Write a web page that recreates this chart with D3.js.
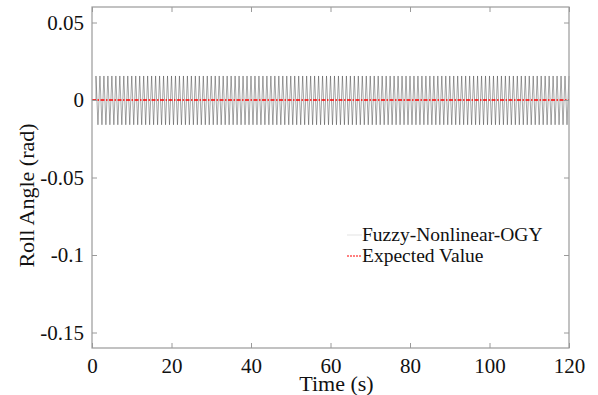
<!DOCTYPE html>
<html>
<head>
<meta charset="utf-8">
<script src="https://cdn.jsdelivr.net/npm/d3@7"></script>
<style>
  body { margin: 0; background: #fff; }
</style>
</head>
<body>
<svg id="chart" width="598" height="395"></svg>
<script>
// tick labels
const xTicks = [0, 20, 40, 60, 80, 100, 120];
const yTicks = [0.05, 0, -0.05, -0.1, -0.15];
const xDomain = [0, 120];
const yDomain = [-0.16, 0.06];

// roll angle oscillation, peaks read every half second from t = 1 s
const rollStart = 1;
const rollStep = 0.5;
const rollPeaks = [
  0.0155, -0.016, 0.0155, -0.016, 0.0155, -0.016, 0.0155, -0.016, 0.0155, -0.016,
  0.0155, -0.016, 0.0155, -0.016, 0.0155, -0.016, 0.0155, -0.016, 0.0155, -0.016,
  0.0155, -0.016, 0.0155, -0.016, 0.0155, -0.016, 0.0155, -0.016, 0.0155, -0.016,
  0.0155, -0.016, 0.0155, -0.016, 0.0155, -0.016, 0.0155, -0.016, 0.0155, -0.016,
  0.0155, -0.016, 0.0155, -0.016, 0.0155, -0.016, 0.0155, -0.016, 0.0155, -0.016,
  0.0155, -0.016, 0.0155, -0.016, 0.0155, -0.016, 0.0155, -0.016, 0.0155, -0.016,
  0.0155, -0.016, 0.0155, -0.016, 0.0155, -0.016, 0.0155, -0.016, 0.0155, -0.016,
  0.0155, -0.016, 0.0155, -0.016, 0.0155, -0.016, 0.0155, -0.016, 0.0155, -0.016,
  0.0155, -0.016, 0.0155, -0.016, 0.0155, -0.016, 0.0155, -0.016, 0.0155, -0.016,
  0.0155, -0.016, 0.0155, -0.016, 0.0155, -0.016, 0.0155, -0.016, 0.0155, -0.016,
  0.0155, -0.016, 0.0155, -0.016, 0.0155, -0.016, 0.0155, -0.016, 0.0155, -0.016,
  0.0155, -0.016, 0.0155, -0.016, 0.0155, -0.016, 0.0155, -0.016, 0.0155, -0.016,
  0.0155, -0.016, 0.0155, -0.016, 0.0155, -0.016, 0.0155, -0.016, 0.0155, -0.016,
  0.0155, -0.016, 0.0155, -0.016, 0.0155, -0.016, 0.0155, -0.016, 0.0155, -0.016,
  0.0155, -0.016, 0.0155, -0.016, 0.0155, -0.016, 0.0155, -0.016, 0.0155, -0.016,
  0.0155, -0.016, 0.0155, -0.016, 0.0155, -0.016, 0.0155, -0.016, 0.0155, -0.016,
  0.0155, -0.016, 0.0155, -0.016, 0.0155, -0.016, 0.0155, -0.016, 0.0155, -0.016,
  0.0155, -0.016, 0.0155, -0.016, 0.0155, -0.016, 0.0155, -0.016, 0.0155, -0.016,
  0.0155, -0.016, 0.0155, -0.016, 0.0155, -0.016, 0.0155, -0.016, 0.0155, -0.016,
  0.0155, -0.016, 0.0155, -0.016, 0.0155, -0.016, 0.0155, -0.016, 0.0155, -0.016,
  0.0155, -0.016, 0.0155, -0.016, 0.0155, -0.016, 0.0155, -0.016, 0.0155, -0.016,
  0.0155, -0.016, 0.0155, -0.016, 0.0155, -0.016, 0.0155, -0.016, 0.0155, -0.016,
  0.0155, -0.016, 0.0155, -0.016, 0.0155, -0.016, 0.0155, -0.016, 0.0155, -0.016,
  0.0155, -0.016, 0.0155, -0.016, 0.0155, -0.016, 0.0155, -0.016, 0.0155
];
const expectedTime = [0, 120];
const expectedValue = [0, 0];

const seriesNames = ['Fuzzy-Nonlinear-OGY', 'Expected Value'];

const serif = 'Liberation Serif';
const margin = { top: 7, right: 29, bottom: 47, left: 92 };
const svg = d3.select('#chart').attr('font-family', serif);
const width = +svg.attr('width') - margin.left - margin.right;
const height = +svg.attr('height') - margin.top - margin.bottom;

const x = d3.scaleLinear().domain(xDomain).range([0, width]);
const y = d3.scaleLinear().domain(yDomain).range([height, 0]);

const g = svg.append('g').attr('transform', `translate(${margin.left},${margin.top})`);
const axisColor = '#9a9a9a';
const tickLen = 5;

// series
const rollData = [{ t: 0, v: 0 }, { t: rollStart, v: 0 }]
  .concat(rollPeaks.map((v, i) => ({ t: rollStart + i * rollStep, v: v })));

g.append('path')
  .datum(rollData)
  .attr('fill', 'none')
  .attr('stroke', '#222')
  .attr('stroke-width', 0.4)
  .attr('d', d3.line().x(d => x(d.t)).y(d => y(d.v)));

g.append('path')
  .datum(expectedTime.map((t, i) => ({ t: t, v: expectedValue[i] })))
  .attr('fill', 'none')
  .attr('stroke', '#ff0000')
  .attr('stroke-width', 1.5)
  .attr('stroke-dasharray', '4,1.5,1.5,1.5')
  .attr('d', d3.line().x(d => x(d.t)).y(d => y(d.v)));

// axes (box with inward ticks)
const styleAxis = sel => {
  sel.attr('font-family', serif).attr('font-size', 21);
  sel.select('.domain').remove();
  sel.selectAll('.tick line').attr('stroke', axisColor);
  sel.selectAll('.tick text')
    .attr('font-family', serif)
    .attr('font-size', 21)
    .attr('fill', '#111');
};

g.append('g')
  .attr('transform', `translate(0,${height})`)
  .call(d3.axisBottom(x).tickValues(xTicks).tickSizeInner(-tickLen).tickSizeOuter(0).tickPadding(10))
  .call(styleAxis);

g.append('g')
  .call(d3.axisTop(x).tickValues(xTicks).tickSizeInner(-tickLen).tickSizeOuter(0).tickFormat(''))
  .call(styleAxis);

g.append('g')
  .call(d3.axisLeft(y).tickValues(yTicks).tickSizeInner(-tickLen).tickSizeOuter(0).tickPadding(8)
    .tickFormat(d => d === 0 ? '0' : String(d)))
  .call(styleAxis);

g.append('g')
  .attr('transform', `translate(${width},0)`)
  .call(d3.axisRight(y).tickValues(yTicks).tickSizeInner(-tickLen).tickSizeOuter(0).tickFormat(''))
  .call(styleAxis);

g.append('rect')
  .attr('width', width)
  .attr('height', height)
  .attr('fill', 'none')
  .attr('stroke', axisColor)
  .attr('stroke-width', 1.2);

// axis labels
svg.append('text')
  .attr('x', margin.left + width / 2 + 6)
  .attr('y', 391)
  .attr('text-anchor', 'middle')
  .attr('font-size', 22)
  .attr('fill', '#111')
  .text('Time (s)');

svg.append('text')
  .attr('transform', `translate(34,${margin.top + height / 2 + 18}) rotate(-90)`)
  .attr('text-anchor', 'middle')
  .attr('font-size', 22)
  .attr('fill', '#111')
  .text('Roll Angle (rad)');

// legend
const legend = svg.append('g').attr('transform', 'translate(347,235)');
const legendStyles = [
  { stroke: '#d0d0d0', width: 0.6, dash: null },
  { stroke: '#ff0000', width: 1.2, dash: '2,1' }
];
seriesNames.forEach((name, i) => {
  const row = legend.append('g').attr('transform', `translate(0,${i * 21})`);
  row.append('line')
    .attr('x1', 0).attr('x2', 15).attr('y1', 0).attr('y2', 0)
    .attr('stroke', legendStyles[i].stroke)
    .attr('stroke-width', legendStyles[i].width)
    .attr('stroke-dasharray', legendStyles[i].dash);
  row.append('text')
    .attr('x', 15)
    .attr('y', 6)
    .attr('font-size', 19.5)
    .attr('fill', '#111')
    .text(name);
});
</script>
</body>
</html>
